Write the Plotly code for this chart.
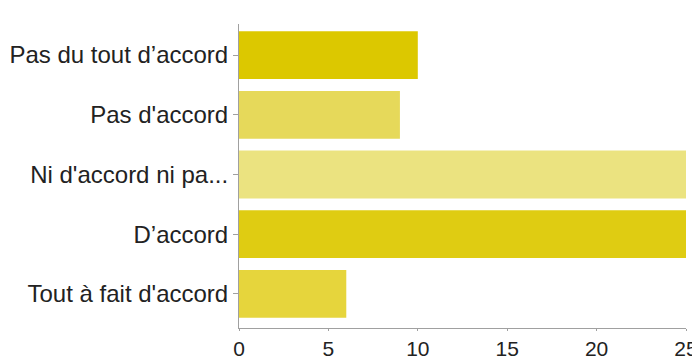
import plotly.graph_objects as go

categories = [
    "Pas du tout d’accord",
    "Pas d'accord",
    "Ni d'accord ni pa...",
    "D’accord",
    "Tout à fait d'accord",
]
counts = [10, 9, 25, 25, 6]
bar_colors = ["#dcc800", "#e6d95a", "#ebe380", "#dfcc12", "#e6d53c"]
x_ticks = [0, 5, 10, 15, 20, 25]

fig = go.Figure()

fig.add_trace(
    go.Bar(
        x=counts,
        y=categories,
        orientation="h",
        marker=dict(color=bar_colors, line=dict(width=0)),
        width=0.8,
        hoverinfo="x+y",
    )
)

# page body has an 8px margin, so the figure is sized/offset to compensate
fig.update_layout(
    width=692,
    height=350,
    margin=dict(l=231, r=14, t=16, b=30),
    paper_bgcolor="white",
    plot_bgcolor="white",
    showlegend=False,
    font=dict(family="Liberation Sans, Arial, sans-serif", size=24, color="#222222"),
    xaxis=dict(
        range=[0, 25],
        tickvals=x_ticks,
        automargin=False,
        showgrid=False,
        zeroline=False,
        showline=True,
        linecolor="#a0a0a0",
        linewidth=1,
        ticks="outside",
        ticklen=2,
        tickcolor="#a0a0a0",
        tickfont=dict(size=21),
    ),
    yaxis=dict(
        type="category",
        range=[4.57, -0.52],
        automargin=False,
        showgrid=False,
        zeroline=False,
        showline=True,
        linecolor="#a0a0a0",
        linewidth=1,
        ticks="outside",
        ticklen=5,
        tickcolor="#a0a0a0",
        tickfont=dict(size=24),
    ),
)

fig.write_html("out.html")
